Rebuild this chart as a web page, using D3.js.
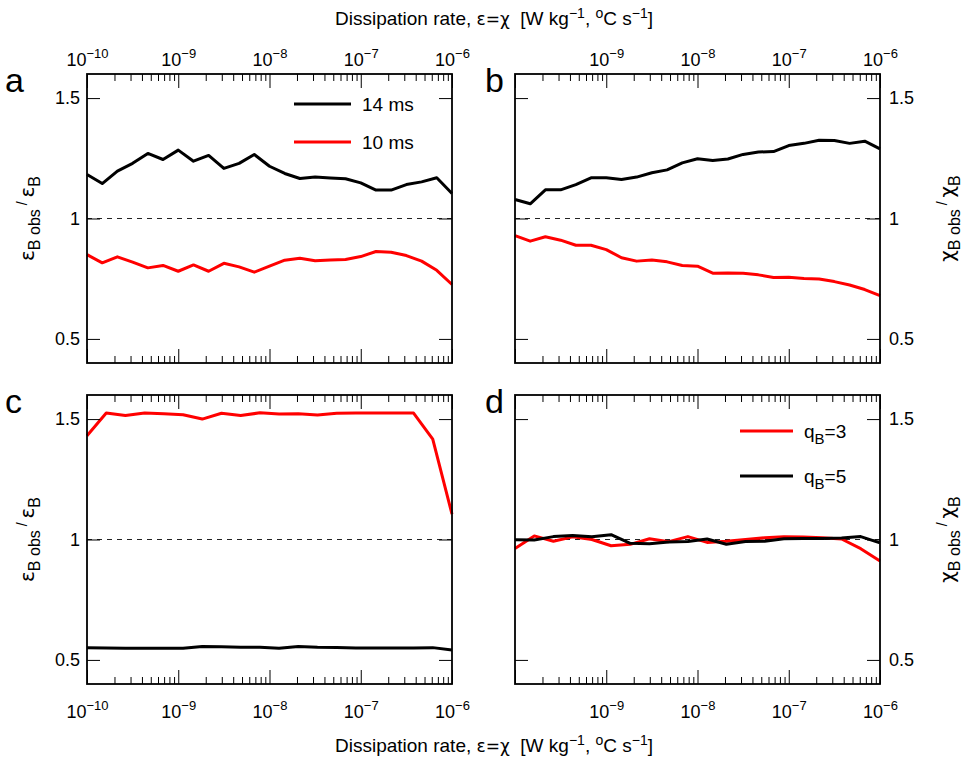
<!DOCTYPE html>
<html><head><meta charset="utf-8">
<script src="https://cdn.jsdelivr.net/npm/d3@7"></script>
<style>
body{margin:0;background:#fff;}
svg{font-family:"Liberation Sans",Arial,Helvetica,sans-serif;}
.gr{font-family:"DejaVu Sans","Noto Sans",sans-serif;}
</style></head>
<body><svg id="chart" width="963" height="758"></svg>
<script>
// ---------- DATA ----------
// log10 of dissipation rate (x positions of samples)
const xExp25 = [-10,-9.833,-9.667,-9.5,-9.333,-9.167,-9,-8.833,-8.667,-8.5,-8.333,-8.167,-8,-7.833,-7.667,-7.5,-7.333,-7.167,-7,-6.833,-6.667,-6.5,-6.333,-6.167,-6];
const xExp20 = [-10,-9.789,-9.579,-9.368,-9.158,-8.947,-8.737,-8.526,-8.316,-8.105,-7.895,-7.684,-7.474,-7.263,-7.053,-6.842,-6.632,-6.421,-6.211,-6];

// Panel a (eps ratio, sampling 14 ms / 10 ms)
const a14 = [1.183,1.145,1.197,1.229,1.270,1.245,1.284,1.238,1.262,1.208,1.229,1.266,1.217,1.187,1.166,1.172,1.168,1.165,1.148,1.118,1.118,1.141,1.152,1.169,1.104];
const a10 = [0.850,0.816,0.841,0.819,0.795,0.805,0.781,0.807,0.781,0.814,0.799,0.777,0.802,0.827,0.835,0.825,0.828,0.830,0.842,0.863,0.860,0.846,0.823,0.785,0.726];
// Panel b (chi ratio, 14 ms / 10 ms)
const b14 = [1.079,1.061,1.119,1.119,1.141,1.169,1.169,1.162,1.172,1.190,1.202,1.231,1.248,1.241,1.247,1.266,1.276,1.278,1.303,1.312,1.325,1.324,1.312,1.321,1.289];
const b10 = [0.929,0.906,0.924,0.910,0.889,0.889,0.871,0.837,0.823,0.828,0.820,0.805,0.802,0.773,0.774,0.773,0.766,0.755,0.756,0.751,0.749,0.738,0.724,0.705,0.680];
// Panel c (eps ratio, qB=3 / qB=5)
const cq3 = [1.431,1.525,1.515,1.525,1.522,1.518,1.500,1.524,1.515,1.526,1.521,1.522,1.517,1.524,1.525,1.525,1.525,1.525,1.417,1.105];
const cq5 = [0.551,0.549,0.548,0.548,0.548,0.548,0.556,0.555,0.553,0.553,0.548,0.556,0.553,0.552,0.549,0.549,0.549,0.549,0.551,0.541];
// Panel d (chi ratio, qB=3 / qB=5)
const dq3 = [0.963,1.015,0.993,1.011,1.000,0.974,0.980,1.003,0.991,1.012,0.988,0.993,1.000,1.007,1.011,1.010,1.007,1.002,0.962,0.911];
const dq5 = [0.999,0.998,1.012,1.017,1.011,1.020,0.984,0.982,0.990,0.992,1.002,0.980,0.992,0.993,1.003,1.004,1.004,1.006,1.012,0.986];

const xDomain = [1e-10, 1e-6];
const yDomain = [0.4, 1.6];
const yTicks = [0.5, 1, 1.5];
const yTickLabels = ["0.5", "1", "1.5"];
const majorExp = [-10, -9, -8, -7, -6];

// ---------- LAYOUT ----------
const svg = d3.select("#chart");
const W = 365, H = 289;
const panels = [
  {id:"a", x0:87,  y0:74,  xs:xExp25, s:[{v:a14,c:"#000"},{v:a10,c:"#ff0000"}], topLbl:true,  botLbl:false, rightLbl:false, yl:"eps", firstX:true},
  {id:"b", x0:515, y0:74,  xs:xExp25, s:[{v:b14,c:"#000"},{v:b10,c:"#ff0000"}], topLbl:true,  botLbl:false, rightLbl:true,  yl:"chi", firstX:false},
  {id:"c", x0:87,  y0:395, xs:xExp20, s:[{v:cq5,c:"#000"},{v:cq3,c:"#ff0000"}], topLbl:false, botLbl:true,  rightLbl:false, yl:"eps", firstX:true},
  {id:"d", x0:515, y0:395, xs:xExp20, s:[{v:dq3,c:"#ff0000"},{v:dq5,c:"#000"}], topLbl:false, botLbl:true,  rightLbl:true,  yl:"chi", firstX:false}
];

const minorTicks = [];
for (let e = -10; e < -6; e++) for (let m = 2; m <= 9; m++) minorTicks.push(m * Math.pow(10, e));
const majorTicks = majorExp.map(e => Math.pow(10, e));

function supLabel(sel, e) {
  sel.text(null);
  sel.append("tspan").text("10");
  sel.append("tspan").attr("dy", -8).attr("font-size", 13).text("\u2212" + Math.abs(e));
}

panels.forEach(p => {
  const x = d3.scaleLog().domain(xDomain).range([p.x0, p.x0 + W]);
  const y = d3.scaleLinear().domain(yDomain).range([p.y0 + H, p.y0]);
  const g = svg.append("g");

  // dashed reference line at 1
  g.append("line").attr("x1", p.x0).attr("x2", p.x0 + W).attr("y1", y(1)).attr("y2", y(1))
    .attr("stroke", "#222").attr("stroke-width", 1).attr("stroke-dasharray", "5,5");

  // data lines
  const line = d3.line().x((d, i) => x(Math.pow(10, p.xs[i]))).y(d => y(d));
  p.s.forEach(s => {
    g.append("path").datum(s.v).attr("d", line).attr("fill", "none")
      .attr("stroke", s.c).attr("stroke-width", 3).attr("stroke-linejoin", "round");
  });

  // x axes (ticks inward)
  const mkX = (axisFn, ty, lbl) => {
    const minorAx = axisFn(x).tickValues(minorTicks).tickSize(-7).tickFormat("");
    const gm = g.append("g").attr("transform", `translate(0,${ty})`).call(minorAx);
    gm.select(".domain").remove();
    const vals = p.firstX || !lbl ? majorTicks : majorTicks.slice(1);
    const majorAx = axisFn(x).tickValues(majorTicks).tickSize(-14)
      .tickPadding(axisFn === d3.axisTop ? 8 : 21).tickFormat("");
    const gM = g.append("g").attr("transform", `translate(0,${ty})`).call(majorAx);
    gM.select(".domain").remove();
    gM.selectAll(".tick line").attr("stroke-width", 1);
    gM.selectAll(".tick text").attr("font-size", 18).attr("fill", "#000")
      .each(function(d) {
        const e = Math.round(Math.log10(d));
        if (lbl && vals.includes(d)) supLabel(d3.select(this), e);
      });
  };
  mkX(d3.axisTop, p.y0, p.topLbl);
  mkX(d3.axisBottom, p.y0 + H, p.botLbl);

  // y axes (ticks inward)
  const yl = d3.axisLeft(y).tickValues(yTicks).tickSize(-13).tickPadding(7)
    .tickFormat((d, i) => p.rightLbl ? "" : yTickLabels[i]);
  const gl = g.append("g").attr("transform", `translate(${p.x0},0)`).call(yl);
  gl.select(".domain").remove();
  gl.selectAll("text").attr("font-size", 18).attr("fill", "#000");
  const yr = d3.axisRight(y).tickValues(yTicks).tickSize(-13).tickPadding(9)
    .tickFormat((d, i) => p.rightLbl ? yTickLabels[i] : "");
  const gr = g.append("g").attr("transform", `translate(${p.x0 + W},0)`).call(yr);
  gr.select(".domain").remove();
  gr.selectAll("text").attr("font-size", 18).attr("fill", "#000");

  // frame
  g.append("rect").attr("x", p.x0).attr("y", p.y0).attr("width", W).attr("height", H)
    .attr("fill", "none").attr("stroke", "#000").attr("stroke-width", 1.8);

  // panel letter
  svg.append("text").attr("x", p.rightLbl ? 485 : 5).attr("y", p.y0 + 18)
    .attr("font-size", 34).text(p.id);

  // y label
  const lx = p.rightLbl ? 954 : 34;
  const yt = svg.append("text").attr("transform", `translate(${lx},${p.y0 + H / 2}) rotate(-90)`)
    .attr("text-anchor", "middle").attr("font-size", 20);
  const sym = p.yl === "eps" ? "\u03b5" : "\u03c7";
  yt.append("tspan").attr("class", "gr").text(sym);
  yt.append("tspan").attr("dy", 6).attr("font-size", 16).text("B obs");
  yt.append("tspan").attr("dy", -13).attr("font-size", 14).text("\u00a0/\u00a0");
  yt.append("tspan").attr("dy", 7).attr("class", "gr").text(sym);
  yt.append("tspan").attr("dy", 6).attr("font-size", 16).text("B");
});

// ---------- LEGENDS ----------
function legendRow(x1, x2, ly, color, build) {
  svg.append("line").attr("x1", x1).attr("x2", x2).attr("y1", ly).attr("y2", ly)
    .attr("stroke", color).attr("stroke-width", 3);
  const t = svg.append("text").attr("x", x2 + 11).attr("y", ly + 7).attr("font-size", 19);
  build(t);
}
legendRow(294, 351, 104, "#000", t => t.text("14 ms"));
legendRow(294, 351, 142, "#ff0000", t => t.text("10 ms"));
legendRow(740, 793, 431, "#ff0000", t => {
  t.append("tspan").text("q");
  t.append("tspan").attr("dy", 6).attr("font-size", 15).text("B");
  t.append("tspan").attr("dy", -6).text("=3");
});
legendRow(740, 793, 476, "#000", t => {
  t.append("tspan").text("q");
  t.append("tspan").attr("dy", 6).attr("font-size", 15).text("B");
  t.append("tspan").attr("dy", -6).text("=5");
});

// ---------- TITLES ----------
function xTitle(ty) {
  const t = svg.append("text").attr("x", 494).attr("y", ty).attr("text-anchor", "middle").attr("font-size", 19);
  t.append("tspan").text("Dissipation rate, ");
  t.append("tspan").attr("class", "gr").attr("font-size", 17).text("\u03b5=\u03c7");
  t.append("tspan").text("\u00a0 [W kg");
  t.append("tspan").attr("dy", -7).attr("font-size", 14).text("\u22121");
  t.append("tspan").attr("dy", 7).text(", ");
  t.append("tspan").attr("dy", -7).attr("font-size", 14).text("o");
  t.append("tspan").attr("dy", 7).text("C s");
  t.append("tspan").attr("dy", -7).attr("font-size", 14).text("\u22121");
  t.append("tspan").attr("dy", 7).text("]");
}
xTitle(25);
xTitle(752);
</script></body></html>
